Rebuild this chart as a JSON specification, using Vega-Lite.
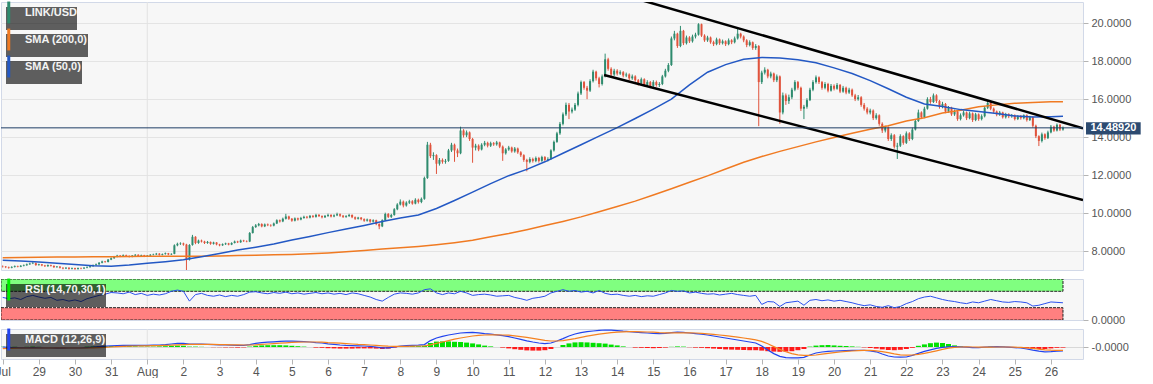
{
"$schema": "https://vega.github.io/schema/vega-lite/v6.json",
"padding": {"left": -6, "top": 1, "right": 0, "bottom": 0},
"background": "#ffffff",
"bounds": "flush",
"spacing": 9,
"resolve": {"scale": {"stroke": "independent"}, "legend": {"stroke": "independent"}},
"config": {
  "font": "Liberation Sans",
  "view": {"stroke": "#d2d9e8", "fill": "#f7f7f7", "strokeWidth": 1},
  "axis": {"labelFont": "Liberation Sans", "labelFontSize": 11, "labelColor": "#555555", "tickColor": "#b4b4b4", "domain": false},
  "legend": {"padding": 0, "fillColor": "rgba(0,0,0,0.62)", "labelColor": "#f4f4f4", "labelFont": "Liberation Sans", "labelFontSize": 11, "labelFontWeight": "bold", "labelOffset": 8, "symbolType": "M-1,-4V4", "symbolSize": 30, "symbolStrokeWidth": 3, "symbolOpacity": 1}
},
"datasets": {
"candles": [
{"t":0,"o":7.2,"hi":7.24,"lo":7.13,"c":7.18},{"t":2,"o":7.18,"hi":7.21,"lo":7.1,"c":7.15},{"t":4,"o":7.15,"hi":7.18,"lo":7.07,"c":7.12},{"t":6,"o":7.12,"hi":7.2,"lo":7.09,"c":7.16},{"t":8,"o":7.16,"hi":7.24,"lo":7.13,"c":7.2},{"t":10,"o":7.2,"hi":7.23,"lo":7.14,"c":7.17},{"t":12,"o":7.17,"hi":7.26,"lo":7.15,"c":7.22},{"t":14,"o":7.22,"hi":7.29,"lo":7.19,"c":7.25},{"t":16,"o":7.25,"hi":7.34,"lo":7.22,"c":7.3},{"t":18,"o":7.3,"hi":7.38,"lo":7.27,"c":7.34},
{"t":20,"o":7.34,"hi":7.42,"lo":7.31,"c":7.36},{"t":22,"o":7.36,"hi":7.39,"lo":7.22,"c":7.26},{"t":24,"o":7.26,"hi":7.33,"lo":7.23,"c":7.3},{"t":26,"o":7.3,"hi":7.32,"lo":7.2,"c":7.24},{"t":28,"o":7.24,"hi":7.27,"lo":7.16,"c":7.2},{"t":30,"o":7.2,"hi":7.29,"lo":7.17,"c":7.26},{"t":32,"o":7.26,"hi":7.28,"lo":7.18,"c":7.22},{"t":34,"o":7.22,"hi":7.24,"lo":7.11,"c":7.15},{"t":36,"o":7.15,"hi":7.21,"lo":7.12,"c":7.18},{"t":38,"o":7.18,"hi":7.2,"lo":7.08,"c":7.12},
{"t":40,"o":7.12,"hi":7.14,"lo":7.04,"c":7.08},{"t":42,"o":7.08,"hi":7.15,"lo":7.05,"c":7.12},{"t":44,"o":7.12,"hi":7.14,"lo":7.02,"c":7.06},{"t":46,"o":7.06,"hi":7.13,"lo":7.03,"c":7.1},{"t":48,"o":7.1,"hi":7.12,"lo":7.01,"c":7.05},{"t":50,"o":7.05,"hi":7.13,"lo":7.02,"c":7.1},{"t":52,"o":7.1,"hi":7.13,"lo":7.04,"c":7.08},{"t":54,"o":7.08,"hi":7.15,"lo":7.05,"c":7.12},{"t":56,"o":7.12,"hi":7.19,"lo":7.09,"c":7.15},{"t":58,"o":7.15,"hi":7.23,"lo":7.12,"c":7.2},
{"t":60,"o":7.2,"hi":7.29,"lo":7.17,"c":7.26},{"t":62,"o":7.26,"hi":7.34,"lo":7.22,"c":7.3},{"t":64,"o":7.3,"hi":7.42,"lo":7.27,"c":7.38},{"t":66,"o":7.38,"hi":7.49,"lo":7.35,"c":7.45},{"t":68,"o":7.45,"hi":7.48,"lo":7.38,"c":7.42},{"t":70,"o":7.42,"hi":7.58,"lo":7.4,"c":7.55},{"t":72,"o":7.55,"hi":7.66,"lo":7.52,"c":7.62},{"t":74,"o":7.62,"hi":7.74,"lo":7.59,"c":7.7},{"t":76,"o":7.7,"hi":7.8,"lo":7.67,"c":7.76},{"t":78,"o":7.76,"hi":7.79,"lo":7.68,"c":7.72},
{"t":80,"o":7.72,"hi":7.82,"lo":7.69,"c":7.78},{"t":82,"o":7.78,"hi":7.81,"lo":7.7,"c":7.74},{"t":84,"o":7.74,"hi":7.77,"lo":7.66,"c":7.7},{"t":86,"o":7.7,"hi":7.79,"lo":7.67,"c":7.76},{"t":88,"o":7.76,"hi":7.84,"lo":7.73,"c":7.8},{"t":90,"o":7.8,"hi":7.83,"lo":7.7,"c":7.74},{"t":92,"o":7.74,"hi":7.81,"lo":7.71,"c":7.78},{"t":94,"o":7.78,"hi":7.8,"lo":7.68,"c":7.72},{"t":96,"o":7.72,"hi":7.79,"lo":7.69,"c":7.76},{"t":98,"o":7.76,"hi":7.84,"lo":7.73,"c":7.8},
{"t":100,"o":7.8,"hi":7.86,"lo":7.77,"c":7.82},{"t":102,"o":7.82,"hi":7.9,"lo":7.79,"c":7.86},{"t":104,"o":7.86,"hi":7.89,"lo":7.76,"c":7.8},{"t":106,"o":7.8,"hi":7.87,"lo":7.77,"c":7.84},{"t":108,"o":7.84,"hi":7.92,"lo":7.81,"c":7.88},{"t":110,"o":7.88,"hi":7.9,"lo":7.78,"c":7.82},{"t":112,"o":7.82,"hi":7.88,"lo":7.79,"c":7.85},{"t":114,"o":7.85,"hi":8.35,"lo":7.83,"c":8.3},{"t":116,"o":8.3,"hi":8.44,"lo":8.25,"c":8.38},{"t":118,"o":8.38,"hi":8.46,"lo":8.32,"c":8.4},
{"t":120,"o":8.4,"hi":8.44,"lo":8.28,"c":8.34},{"t":122,"o":8.34,"hi":8.38,"lo":6.98,"c":7.55},{"t":124,"o":7.55,"hi":8.36,"lo":7.5,"c":8.32},{"t":126,"o":8.32,"hi":8.85,"lo":8.28,"c":8.75},{"t":128,"o":8.75,"hi":8.78,"lo":8.36,"c":8.42},{"t":130,"o":8.42,"hi":8.6,"lo":8.38,"c":8.55},{"t":132,"o":8.55,"hi":8.6,"lo":8.45,"c":8.5},{"t":134,"o":8.5,"hi":8.54,"lo":8.37,"c":8.42},{"t":136,"o":8.42,"hi":8.53,"lo":8.38,"c":8.48},{"t":138,"o":8.48,"hi":8.5,"lo":8.33,"c":8.38},
{"t":140,"o":8.38,"hi":8.49,"lo":8.34,"c":8.45},{"t":142,"o":8.45,"hi":8.47,"lo":8.3,"c":8.35},{"t":144,"o":8.35,"hi":8.38,"lo":8.25,"c":8.3},{"t":146,"o":8.3,"hi":8.4,"lo":8.27,"c":8.36},{"t":148,"o":8.36,"hi":8.44,"lo":8.32,"c":8.4},{"t":150,"o":8.4,"hi":8.43,"lo":8.3,"c":8.34},{"t":152,"o":8.34,"hi":8.46,"lo":8.31,"c":8.42},{"t":154,"o":8.42,"hi":8.55,"lo":8.4,"c":8.5},{"t":156,"o":8.5,"hi":8.54,"lo":8.42,"c":8.46},{"t":158,"o":8.46,"hi":8.6,"lo":8.43,"c":8.55},
{"t":160,"o":8.55,"hi":8.59,"lo":8.48,"c":8.52},{"t":162,"o":8.52,"hi":8.56,"lo":8.46,"c":8.5},{"t":164,"o":8.5,"hi":9.0,"lo":8.47,"c":8.95},{"t":166,"o":8.95,"hi":9.32,"lo":8.92,"c":9.26},{"t":168,"o":9.26,"hi":9.42,"lo":9.22,"c":9.35},{"t":170,"o":9.35,"hi":9.48,"lo":9.3,"c":9.42},{"t":172,"o":9.42,"hi":9.46,"lo":9.25,"c":9.3},{"t":174,"o":9.3,"hi":9.45,"lo":9.26,"c":9.4},{"t":176,"o":9.4,"hi":9.45,"lo":9.31,"c":9.36},{"t":178,"o":9.36,"hi":9.41,"lo":9.28,"c":9.34},
{"t":180,"o":9.34,"hi":9.5,"lo":9.3,"c":9.45},{"t":182,"o":9.45,"hi":9.67,"lo":9.42,"c":9.62},{"t":184,"o":9.62,"hi":9.66,"lo":9.5,"c":9.56},{"t":186,"o":9.56,"hi":9.76,"lo":9.52,"c":9.7},{"t":188,"o":9.7,"hi":9.96,"lo":9.66,"c":9.82},{"t":190,"o":9.82,"hi":9.86,"lo":9.64,"c":9.7},{"t":192,"o":9.7,"hi":9.74,"lo":9.54,"c":9.6},{"t":194,"o":9.6,"hi":9.77,"lo":9.56,"c":9.72},{"t":196,"o":9.72,"hi":9.76,"lo":9.6,"c":9.66},{"t":198,"o":9.66,"hi":9.8,"lo":9.62,"c":9.74},
{"t":200,"o":9.74,"hi":9.86,"lo":9.7,"c":9.8},{"t":202,"o":9.8,"hi":9.85,"lo":9.71,"c":9.76},{"t":204,"o":9.76,"hi":9.9,"lo":9.72,"c":9.85},{"t":206,"o":9.85,"hi":9.9,"lo":9.75,"c":9.8},{"t":208,"o":9.8,"hi":9.96,"lo":9.76,"c":9.9},{"t":210,"o":9.9,"hi":9.95,"lo":9.79,"c":9.84},{"t":212,"o":9.84,"hi":9.88,"lo":9.72,"c":9.78},{"t":214,"o":9.78,"hi":9.9,"lo":9.74,"c":9.85},{"t":216,"o":9.85,"hi":9.97,"lo":9.8,"c":9.9},{"t":218,"o":9.9,"hi":9.94,"lo":9.77,"c":9.82},
{"t":220,"o":9.82,"hi":9.93,"lo":9.78,"c":9.88},{"t":222,"o":9.88,"hi":10.02,"lo":9.84,"c":9.94},{"t":224,"o":9.94,"hi":9.98,"lo":9.8,"c":9.86},{"t":226,"o":9.86,"hi":9.9,"lo":9.74,"c":9.8},{"t":228,"o":9.8,"hi":9.89,"lo":9.75,"c":9.84},{"t":230,"o":9.84,"hi":9.96,"lo":9.8,"c":9.9},{"t":232,"o":9.9,"hi":9.93,"lo":9.73,"c":9.78},{"t":234,"o":9.78,"hi":9.82,"lo":9.64,"c":9.7},{"t":236,"o":9.7,"hi":9.8,"lo":9.66,"c":9.76},{"t":238,"o":9.76,"hi":9.79,"lo":9.62,"c":9.68},
{"t":240,"o":9.68,"hi":9.72,"lo":9.54,"c":9.6},{"t":242,"o":9.6,"hi":9.71,"lo":9.55,"c":9.66},{"t":244,"o":9.66,"hi":9.69,"lo":9.49,"c":9.55},{"t":246,"o":9.55,"hi":9.67,"lo":9.5,"c":9.62},{"t":248,"o":9.62,"hi":9.65,"lo":9.36,"c":9.42},{"t":250,"o":9.42,"hi":9.46,"lo":9.15,"c":9.3},{"t":252,"o":9.3,"hi":9.67,"lo":9.26,"c":9.62},{"t":254,"o":9.62,"hi":10.02,"lo":9.58,"c":9.95},{"t":256,"o":9.95,"hi":10.0,"lo":9.74,"c":9.8},{"t":258,"o":9.8,"hi":9.96,"lo":9.74,"c":9.9},
{"t":260,"o":9.9,"hi":10.26,"lo":9.86,"c":10.2},{"t":262,"o":10.2,"hi":10.52,"lo":10.15,"c":10.45},{"t":264,"o":10.45,"hi":10.72,"lo":10.4,"c":10.6},{"t":266,"o":10.6,"hi":10.66,"lo":10.3,"c":10.4},{"t":268,"o":10.4,"hi":10.62,"lo":10.34,"c":10.55},{"t":270,"o":10.55,"hi":10.7,"lo":10.48,"c":10.62},{"t":272,"o":10.62,"hi":10.68,"lo":10.44,"c":10.5},{"t":274,"o":10.5,"hi":10.78,"lo":10.46,"c":10.7},{"t":276,"o":10.7,"hi":10.76,"lo":10.5,"c":10.58},{"t":278,"o":10.58,"hi":10.82,"lo":10.52,"c":10.75},
{"t":280,"o":10.75,"hi":11.92,"lo":10.7,"c":11.85},{"t":282,"o":11.85,"hi":13.75,"lo":11.8,"c":13.6},{"t":284,"o":13.6,"hi":13.7,"lo":12.9,"c":13.0},{"t":286,"o":13.0,"hi":13.2,"lo":12.8,"c":13.05},{"t":288,"o":13.05,"hi":13.1,"lo":12.06,"c":12.6},{"t":290,"o":12.6,"hi":12.9,"lo":12.5,"c":12.8},{"t":292,"o":12.8,"hi":12.88,"lo":12.6,"c":12.7},{"t":294,"o":12.7,"hi":12.85,"lo":12.6,"c":12.75},{"t":296,"o":12.75,"hi":13.38,"lo":12.7,"c":13.3},{"t":298,"o":13.3,"hi":13.7,"lo":13.22,"c":13.6},
{"t":300,"o":13.6,"hi":13.66,"lo":12.7,"c":13.3},{"t":302,"o":13.3,"hi":13.4,"lo":12.95,"c":13.15},{"t":304,"o":13.15,"hi":14.55,"lo":13.1,"c":14.35},{"t":306,"o":14.35,"hi":14.42,"lo":13.98,"c":14.1},{"t":308,"o":14.1,"hi":14.35,"lo":14.0,"c":14.25},{"t":310,"o":14.25,"hi":14.3,"lo":13.8,"c":13.9},{"t":312,"o":13.9,"hi":13.96,"lo":12.65,"c":13.45},{"t":314,"o":13.45,"hi":13.65,"lo":13.3,"c":13.55},{"t":316,"o":13.55,"hi":13.62,"lo":13.26,"c":13.35},{"t":318,"o":13.35,"hi":13.68,"lo":13.3,"c":13.6},
{"t":320,"o":13.6,"hi":13.8,"lo":13.52,"c":13.7},{"t":322,"o":13.7,"hi":13.76,"lo":13.46,"c":13.55},{"t":324,"o":13.55,"hi":13.76,"lo":13.48,"c":13.68},{"t":326,"o":13.68,"hi":13.74,"lo":13.54,"c":13.62},{"t":328,"o":13.62,"hi":13.8,"lo":13.55,"c":13.72},{"t":330,"o":13.72,"hi":13.76,"lo":13.42,"c":13.5},{"t":332,"o":13.5,"hi":13.56,"lo":12.75,"c":13.15},{"t":334,"o":13.15,"hi":13.42,"lo":13.08,"c":13.35},{"t":336,"o":13.35,"hi":13.54,"lo":13.28,"c":13.45},{"t":338,"o":13.45,"hi":13.5,"lo":13.18,"c":13.25},
{"t":340,"o":13.25,"hi":13.48,"lo":13.18,"c":13.4},{"t":342,"o":13.4,"hi":13.45,"lo":13.12,"c":13.2},{"t":344,"o":13.2,"hi":13.26,"lo":12.96,"c":13.05},{"t":346,"o":13.05,"hi":13.1,"lo":12.7,"c":12.8},{"t":348,"o":12.8,"hi":12.86,"lo":12.2,"c":12.7},{"t":350,"o":12.7,"hi":12.94,"lo":12.62,"c":12.85},{"t":352,"o":12.85,"hi":12.92,"lo":12.66,"c":12.75},{"t":354,"o":12.75,"hi":12.98,"lo":12.68,"c":12.9},{"t":356,"o":12.9,"hi":12.96,"lo":12.66,"c":12.75},{"t":358,"o":12.75,"hi":13.02,"lo":12.7,"c":12.95},
{"t":360,"o":12.95,"hi":13.0,"lo":12.72,"c":12.8},{"t":362,"o":12.8,"hi":12.94,"lo":12.72,"c":12.85},{"t":364,"o":12.85,"hi":13.36,"lo":12.8,"c":13.3},{"t":366,"o":13.3,"hi":13.82,"lo":13.24,"c":13.75},{"t":368,"o":13.75,"hi":14.28,"lo":13.7,"c":14.2},{"t":370,"o":14.2,"hi":14.8,"lo":14.12,"c":14.7},{"t":372,"o":14.7,"hi":15.3,"lo":14.62,"c":15.2},{"t":374,"o":15.2,"hi":15.82,"lo":15.12,"c":15.7},{"t":376,"o":15.7,"hi":15.8,"lo":14.95,"c":15.35},{"t":378,"o":15.35,"hi":15.56,"lo":15.25,"c":15.45},
{"t":380,"o":15.45,"hi":15.8,"lo":15.38,"c":15.7},{"t":382,"o":15.7,"hi":16.4,"lo":15.62,"c":16.3},{"t":384,"o":16.3,"hi":16.98,"lo":16.22,"c":16.9},{"t":386,"o":16.9,"hi":16.96,"lo":16.5,"c":16.6},{"t":388,"o":16.6,"hi":16.7,"lo":16.0,"c":16.45},{"t":390,"o":16.45,"hi":17.05,"lo":16.38,"c":16.95},{"t":392,"o":16.95,"hi":17.55,"lo":16.88,"c":17.45},{"t":394,"o":17.45,"hi":17.5,"lo":16.98,"c":17.1},{"t":396,"o":17.1,"hi":17.18,"lo":16.62,"c":16.8},{"t":398,"o":16.8,"hi":17.3,"lo":16.72,"c":17.2},
{"t":400,"o":17.2,"hi":18.4,"lo":17.15,"c":18.1},{"t":402,"o":18.1,"hi":18.18,"lo":17.5,"c":17.6},{"t":404,"o":17.6,"hi":17.68,"lo":17.2,"c":17.3},{"t":406,"o":17.3,"hi":17.6,"lo":17.22,"c":17.5},{"t":408,"o":17.5,"hi":17.58,"lo":17.25,"c":17.35},{"t":410,"o":17.35,"hi":17.52,"lo":17.28,"c":17.42},{"t":412,"o":17.42,"hi":17.48,"lo":17.15,"c":17.25},{"t":414,"o":17.25,"hi":17.4,"lo":17.16,"c":17.3},{"t":416,"o":17.3,"hi":17.36,"lo":17.0,"c":17.1},{"t":418,"o":17.1,"hi":17.3,"lo":17.02,"c":17.2},
{"t":420,"o":17.2,"hi":17.26,"lo":16.92,"c":17.0},{"t":422,"o":17.0,"hi":17.06,"lo":16.72,"c":16.85},{"t":424,"o":16.85,"hi":17.14,"lo":16.8,"c":17.05},{"t":426,"o":17.05,"hi":17.1,"lo":16.66,"c":16.75},{"t":428,"o":16.75,"hi":17.0,"lo":16.68,"c":16.9},{"t":430,"o":16.9,"hi":16.96,"lo":16.58,"c":16.7},{"t":432,"o":16.7,"hi":17.0,"lo":16.62,"c":16.9},{"t":434,"o":16.9,"hi":16.98,"lo":16.66,"c":16.75},{"t":436,"o":16.75,"hi":16.9,"lo":16.64,"c":16.8},{"t":438,"o":16.8,"hi":17.28,"lo":16.74,"c":17.2},
{"t":440,"o":17.2,"hi":17.6,"lo":17.14,"c":17.5},{"t":442,"o":17.5,"hi":17.9,"lo":17.42,"c":17.8},{"t":444,"o":17.8,"hi":19.3,"lo":17.75,"c":19.2},{"t":446,"o":19.2,"hi":19.6,"lo":19.1,"c":19.45},{"t":448,"o":19.45,"hi":19.5,"lo":18.7,"c":18.8},{"t":450,"o":18.8,"hi":19.86,"lo":18.74,"c":19.6},{"t":452,"o":19.6,"hi":19.65,"lo":18.85,"c":18.95},{"t":454,"o":18.95,"hi":19.35,"lo":18.88,"c":19.25},{"t":456,"o":19.25,"hi":19.32,"lo":18.96,"c":19.05},{"t":458,"o":19.05,"hi":19.4,"lo":18.98,"c":19.3},
{"t":460,"o":19.3,"hi":19.5,"lo":19.2,"c":19.4},{"t":462,"o":19.4,"hi":20.0,"lo":19.35,"c":19.95},{"t":464,"o":19.95,"hi":19.98,"lo":19.28,"c":19.35},{"t":466,"o":19.35,"hi":19.42,"lo":19.02,"c":19.1},{"t":468,"o":19.1,"hi":19.34,"lo":19.02,"c":19.25},{"t":470,"o":19.25,"hi":19.3,"lo":18.92,"c":19.0},{"t":472,"o":19.0,"hi":19.08,"lo":18.8,"c":18.9},{"t":474,"o":18.9,"hi":19.24,"lo":18.84,"c":19.15},{"t":476,"o":19.15,"hi":19.2,"lo":18.86,"c":18.95},{"t":478,"o":18.95,"hi":19.14,"lo":18.88,"c":19.05},
{"t":480,"o":19.05,"hi":19.1,"lo":18.8,"c":18.9},{"t":482,"o":18.9,"hi":19.2,"lo":18.84,"c":19.1},{"t":484,"o":19.1,"hi":19.16,"lo":18.9,"c":19.0},{"t":486,"o":19.0,"hi":19.3,"lo":18.94,"c":19.2},{"t":488,"o":19.2,"hi":19.7,"lo":19.14,"c":19.45},{"t":490,"o":19.45,"hi":19.5,"lo":19.2,"c":19.3},{"t":492,"o":19.3,"hi":19.36,"lo":19.0,"c":19.1},{"t":494,"o":19.1,"hi":19.16,"lo":18.74,"c":18.85},{"t":496,"o":18.85,"hi":19.1,"lo":18.78,"c":19.0},{"t":498,"o":19.0,"hi":19.04,"lo":18.6,"c":18.7},
{"t":500,"o":18.7,"hi":18.9,"lo":18.6,"c":18.8},{"t":502,"o":18.8,"hi":18.85,"lo":14.58,"c":16.9},{"t":504,"o":16.9,"hi":17.5,"lo":16.8,"c":17.4},{"t":506,"o":17.4,"hi":17.68,"lo":17.3,"c":17.55},{"t":508,"o":17.55,"hi":17.6,"lo":17.1,"c":17.2},{"t":510,"o":17.2,"hi":17.45,"lo":17.1,"c":17.35},{"t":512,"o":17.35,"hi":17.4,"lo":16.9,"c":17.0},{"t":514,"o":17.0,"hi":17.3,"lo":16.9,"c":17.2},{"t":516,"o":17.2,"hi":17.25,"lo":14.7,"c":15.3},{"t":518,"o":15.3,"hi":16.35,"lo":15.2,"c":16.2},
{"t":520,"o":16.2,"hi":16.3,"lo":15.7,"c":15.9},{"t":522,"o":15.9,"hi":16.24,"lo":15.75,"c":16.1},{"t":524,"o":16.1,"hi":16.6,"lo":16.0,"c":16.5},{"t":526,"o":16.5,"hi":17.0,"lo":16.42,"c":16.9},{"t":528,"o":16.9,"hi":16.96,"lo":16.5,"c":16.6},{"t":530,"o":16.6,"hi":16.66,"lo":15.38,"c":15.5},{"t":532,"o":15.5,"hi":15.7,"lo":14.95,"c":15.6},{"t":534,"o":15.6,"hi":16.05,"lo":15.5,"c":15.95},{"t":536,"o":15.95,"hi":16.6,"lo":15.9,"c":16.5},{"t":538,"o":16.5,"hi":17.0,"lo":16.42,"c":16.9},
{"t":540,"o":16.9,"hi":17.25,"lo":16.82,"c":17.15},{"t":542,"o":17.15,"hi":17.2,"lo":16.8,"c":16.9},{"t":544,"o":16.9,"hi":16.96,"lo":16.5,"c":16.6},{"t":546,"o":16.6,"hi":16.9,"lo":16.52,"c":16.8},{"t":548,"o":16.8,"hi":16.86,"lo":16.36,"c":16.45},{"t":550,"o":16.45,"hi":16.8,"lo":16.4,"c":16.7},{"t":552,"o":16.7,"hi":16.78,"lo":16.46,"c":16.55},{"t":554,"o":16.55,"hi":16.85,"lo":16.5,"c":16.75},{"t":556,"o":16.75,"hi":16.8,"lo":16.32,"c":16.4},{"t":558,"o":16.4,"hi":16.7,"lo":16.34,"c":16.6},
{"t":560,"o":16.6,"hi":16.66,"lo":16.26,"c":16.35},{"t":562,"o":16.35,"hi":16.6,"lo":16.28,"c":16.5},{"t":564,"o":16.5,"hi":16.56,"lo":16.12,"c":16.2},{"t":566,"o":16.2,"hi":16.28,"lo":15.9,"c":16.0},{"t":568,"o":16.0,"hi":16.22,"lo":15.92,"c":16.1},{"t":570,"o":16.1,"hi":16.16,"lo":15.6,"c":15.7},{"t":572,"o":15.7,"hi":15.8,"lo":15.4,"c":15.5},{"t":574,"o":15.5,"hi":15.58,"lo":15.2,"c":15.3},{"t":576,"o":15.3,"hi":15.5,"lo":15.2,"c":15.4},{"t":578,"o":15.4,"hi":15.46,"lo":14.9,"c":15.0},
{"t":580,"o":15.0,"hi":15.26,"lo":14.92,"c":15.15},{"t":582,"o":15.15,"hi":15.2,"lo":14.6,"c":14.7},{"t":584,"o":14.7,"hi":14.78,"lo":14.22,"c":14.35},{"t":586,"o":14.35,"hi":14.6,"lo":14.25,"c":14.5},{"t":588,"o":14.5,"hi":14.56,"lo":13.8,"c":13.9},{"t":590,"o":13.9,"hi":14.2,"lo":13.8,"c":14.1},{"t":592,"o":14.1,"hi":14.16,"lo":13.4,"c":13.5},{"t":594,"o":13.5,"hi":13.7,"lo":12.85,"c":13.55},{"t":596,"o":13.55,"hi":14.15,"lo":13.48,"c":14.05},{"t":598,"o":14.05,"hi":14.1,"lo":13.6,"c":13.7},
{"t":600,"o":13.7,"hi":14.3,"lo":13.64,"c":14.2},{"t":602,"o":14.2,"hi":14.26,"lo":13.8,"c":13.9},{"t":604,"o":13.9,"hi":14.5,"lo":13.84,"c":14.4},{"t":606,"o":14.4,"hi":14.95,"lo":14.35,"c":14.85},{"t":608,"o":14.85,"hi":15.45,"lo":14.8,"c":15.3},{"t":610,"o":15.3,"hi":15.36,"lo":14.95,"c":15.05},{"t":612,"o":15.05,"hi":15.6,"lo":15.0,"c":15.5},{"t":614,"o":15.5,"hi":16.1,"lo":15.45,"c":16.0},{"t":616,"o":16.0,"hi":16.12,"lo":15.76,"c":15.85},{"t":618,"o":15.85,"hi":16.3,"lo":15.8,"c":16.2},
{"t":620,"o":16.2,"hi":16.26,"lo":15.8,"c":15.9},{"t":622,"o":15.9,"hi":15.96,"lo":15.5,"c":15.6},{"t":624,"o":15.6,"hi":15.86,"lo":15.52,"c":15.75},{"t":626,"o":15.75,"hi":15.8,"lo":15.26,"c":15.35},{"t":628,"o":15.35,"hi":15.64,"lo":15.28,"c":15.55},{"t":630,"o":15.55,"hi":15.6,"lo":15.12,"c":15.2},{"t":632,"o":15.2,"hi":15.45,"lo":15.12,"c":15.35},{"t":634,"o":15.35,"hi":15.4,"lo":14.86,"c":14.95},{"t":636,"o":14.95,"hi":15.25,"lo":14.88,"c":15.15},{"t":638,"o":15.15,"hi":15.4,"lo":15.08,"c":15.3},
{"t":640,"o":15.3,"hi":15.35,"lo":14.9,"c":15.0},{"t":642,"o":15.0,"hi":15.34,"lo":14.94,"c":15.25},{"t":644,"o":15.25,"hi":15.3,"lo":14.8,"c":14.9},{"t":646,"o":14.9,"hi":15.28,"lo":14.84,"c":15.2},{"t":648,"o":15.2,"hi":15.25,"lo":14.86,"c":14.95},{"t":650,"o":14.95,"hi":15.2,"lo":14.88,"c":15.1},{"t":652,"o":15.1,"hi":15.64,"lo":15.04,"c":15.55},{"t":654,"o":15.55,"hi":15.9,"lo":15.48,"c":15.8},{"t":656,"o":15.8,"hi":15.86,"lo":15.42,"c":15.5},{"t":658,"o":15.5,"hi":15.56,"lo":15.26,"c":15.35},
{"t":660,"o":15.35,"hi":15.4,"lo":15.1,"c":15.2},{"t":662,"o":15.2,"hi":15.38,"lo":15.12,"c":15.3},{"t":664,"o":15.3,"hi":15.34,"lo":14.98,"c":15.05},{"t":666,"o":15.05,"hi":15.28,"lo":14.98,"c":15.2},{"t":668,"o":15.2,"hi":15.26,"lo":15.0,"c":15.1},{"t":670,"o":15.1,"hi":15.22,"lo":15.02,"c":15.15},{"t":672,"o":15.15,"hi":15.2,"lo":14.88,"c":14.95},{"t":674,"o":14.95,"hi":15.16,"lo":14.9,"c":15.1},{"t":676,"o":15.1,"hi":15.16,"lo":14.92,"c":15.0},{"t":678,"o":15.0,"hi":15.2,"lo":14.94,"c":15.15},
{"t":680,"o":15.15,"hi":15.2,"lo":14.82,"c":14.9},{"t":682,"o":14.9,"hi":15.12,"lo":14.85,"c":15.05},{"t":684,"o":15.05,"hi":15.1,"lo":14.5,"c":14.6},{"t":686,"o":14.6,"hi":14.66,"lo":13.95,"c":14.05},{"t":688,"o":14.05,"hi":14.1,"lo":13.53,"c":13.8},{"t":690,"o":13.8,"hi":14.24,"lo":13.72,"c":14.15},{"t":692,"o":14.15,"hi":14.2,"lo":13.86,"c":13.95},{"t":694,"o":13.95,"hi":14.34,"lo":13.9,"c":14.25},{"t":696,"o":14.25,"hi":14.64,"lo":14.2,"c":14.55},{"t":698,"o":14.55,"hi":14.6,"lo":14.28,"c":14.35},
{"t":700,"o":14.35,"hi":14.72,"lo":14.3,"c":14.65},{"t":702,"o":14.65,"hi":14.7,"lo":14.32,"c":14.4},{"t":704,"o":14.4,"hi":14.56,"lo":14.34,"c":14.4892}
],
"sma": [
{"t":0,"sma200":7.65,"sma50":7.52},{"t":12,"sma200":7.66,"sma50":7.47},{"t":24,"sma200":7.67,"sma50":7.42},{"t":36,"sma200":7.68,"sma50":7.36},{"t":48,"sma200":7.69,"sma50":7.29},{"t":60,"sma200":7.7,"sma50":7.22},{"t":72,"sma200":7.7,"sma50":7.2},{"t":84,"sma200":7.71,"sma50":7.26},{"t":96,"sma200":7.72,"sma50":7.35},{"t":108,"sma200":7.72,"sma50":7.44},
{"t":120,"sma200":7.72,"sma50":7.54},{"t":132,"sma200":7.73,"sma50":7.7},{"t":144,"sma200":7.74,"sma50":7.87},{"t":156,"sma200":7.76,"sma50":8.05},{"t":168,"sma200":7.78,"sma50":8.2},{"t":180,"sma200":7.8,"sma50":8.37},{"t":192,"sma200":7.82,"sma50":8.58},{"t":204,"sma200":7.85,"sma50":8.77},{"t":216,"sma200":7.9,"sma50":8.97},{"t":228,"sma200":7.96,"sma50":9.16},
{"t":240,"sma200":8.03,"sma50":9.35},{"t":252,"sma200":8.1,"sma50":9.55},{"t":264,"sma200":8.17,"sma50":9.74},{"t":276,"sma200":8.24,"sma50":9.9},{"t":288,"sma200":8.33,"sma50":10.24},{"t":300,"sma200":8.44,"sma50":10.66},{"t":312,"sma200":8.57,"sma50":11.1},{"t":324,"sma200":8.75,"sma50":11.55},{"t":336,"sma200":8.92,"sma50":11.97},{"t":348,"sma200":9.12,"sma50":12.3},
{"t":360,"sma200":9.34,"sma50":12.7},{"t":372,"sma200":9.56,"sma50":13.15},{"t":384,"sma200":9.8,"sma50":13.6},{"t":396,"sma200":10.07,"sma50":14.05},{"t":408,"sma200":10.35,"sma50":14.5},{"t":420,"sma200":10.63,"sma50":14.98},{"t":432,"sma200":10.95,"sma50":15.48},{"t":444,"sma200":11.28,"sma50":16.0},{"t":456,"sma200":11.62,"sma50":16.75},{"t":468,"sma200":11.96,"sma50":17.42},
{"t":480,"sma200":12.32,"sma50":17.82},{"t":492,"sma200":12.68,"sma50":18.1},{"t":504,"sma200":12.98,"sma50":18.2},{"t":516,"sma200":13.25,"sma50":18.17},{"t":528,"sma200":13.5,"sma50":18.08},{"t":540,"sma200":13.75,"sma50":17.92},{"t":552,"sma200":13.98,"sma50":17.65},{"t":564,"sma200":14.2,"sma50":17.35},{"t":576,"sma200":14.42,"sma50":16.98},{"t":588,"sma200":14.6,"sma50":16.55},
{"t":600,"sma200":14.85,"sma50":16.1},{"t":612,"sma200":15.02,"sma50":15.75},{"t":624,"sma200":15.27,"sma50":15.62},{"t":636,"sma200":15.42,"sma50":15.45},{"t":648,"sma200":15.6,"sma50":15.35},{"t":660,"sma200":15.7,"sma50":15.25},{"t":672,"sma200":15.78,"sma50":15.12},{"t":684,"sma200":15.83,"sma50":15.06},{"t":696,"sma200":15.86,"sma50":15.08},{"t":704,"sma200":15.87,"sma50":15.1}
],
"channel": [
{"line":"upper","t":420,"p":21.31},{"line":"upper","t":717.3,"p":14.47},
{"line":"lower","t":399.3,"p":17.275},{"line":"lower","t":717.3,"p":10.685}
],
"ind": [
{"t":0,"rsi":55,"m":0,"s":-0.08,"h":0.01},{"t":4,"rsi":52,"m":-0.02,"s":-0.07,"h":0.01},{"t":8,"rsi":54,"m":-0.03,"s":-0.06,"h":0.01},{"t":12,"rsi":50,"m":-0.04,"s":-0.05,"h":0},{"t":16,"rsi":57,"m":-0.04,"s":-0.05,"h":0.01},{"t":20,"rsi":60,"m":-0.03,"s":-0.05,"h":0.02},{"t":24,"rsi":56,"m":-0.04,"s":-0.05,"h":0.01},{"t":28,"rsi":53,"m":-0.05,"s":-0.05,"h":0},{"t":32,"rsi":55,"m":-0.05,"s":-0.05,"h":0},{"t":36,"rsi":48,"m":-0.06,"s":-0.05,"h":-0.01},
{"t":40,"rsi":50,"m":-0.06,"s":-0.05,"h":-0.01},{"t":44,"rsi":46,"m":-0.05,"s":-0.05,"h":0},{"t":48,"rsi":49,"m":-0.05,"s":-0.05,"h":0},{"t":52,"rsi":45,"m":-0.05,"s":-0.05,"h":0},{"t":56,"rsi":52,"m":-0.03,"s":-0.05,"h":0.02},{"t":60,"rsi":56,"m":-0.01,"s":-0.04,"h":0.03},{"t":64,"rsi":60,"m":0.02,"s":-0.03,"h":0.04},{"t":68,"rsi":63,"m":0.04,"s":-0.02,"h":0.05},{"t":72,"rsi":67,"m":0.06,"s":0,"h":0.05},{"t":76,"rsi":66,"m":0.07,"s":0.02,"h":0.05},
{"t":80,"rsi":64,"m":0.08,"s":0.03,"h":0.05},{"t":84,"rsi":68,"m":0.08,"s":0.04,"h":0.04},{"t":88,"rsi":62,"m":0.08,"s":0.05,"h":0.03},{"t":92,"rsi":65,"m":0.08,"s":0.06,"h":0.02},{"t":96,"rsi":60,"m":0.08,"s":0.06,"h":0.02},{"t":100,"rsi":63,"m":0.09,"s":0.07,"h":0.02},{"t":104,"rsi":61,"m":0.1,"s":0.07,"h":0.03},{"t":108,"rsi":64,"m":0.12,"s":0.08,"h":0.04},{"t":112,"rsi":70,"m":0.15,"s":0.09,"h":0.06},{"t":116,"rsi":73,"m":0.18,"s":0.11,"h":0.07},
{"t":120,"rsi":70,"m":0.18,"s":0.12,"h":0.06},{"t":124,"rsi":46,"m":0.15,"s":0.13,"h":0.02},{"t":128,"rsi":62,"m":0.15,"s":0.13,"h":0.02},{"t":132,"rsi":65,"m":0.14,"s":0.13,"h":0.01},{"t":136,"rsi":60,"m":0.13,"s":0.13,"h":0},{"t":140,"rsi":58,"m":0.12,"s":0.13,"h":-0.01},{"t":144,"rsi":61,"m":0.11,"s":0.12,"h":-0.01},{"t":148,"rsi":57,"m":0.1,"s":0.12,"h":-0.02},{"t":152,"rsi":60,"m":0.09,"s":0.11,"h":-0.02},{"t":156,"rsi":58,"m":0.08,"s":0.11,"h":-0.03},
{"t":160,"rsi":62,"m":0.08,"s":0.1,"h":-0.02},{"t":164,"rsi":68,"m":0.12,"s":0.1,"h":0.02},{"t":168,"rsi":69,"m":0.18,"s":0.11,"h":0.06},{"t":172,"rsi":66,"m":0.22,"s":0.13,"h":0.08},{"t":176,"rsi":64,"m":0.24,"s":0.15,"h":0.09},{"t":180,"rsi":67,"m":0.26,"s":0.17,"h":0.09},{"t":184,"rsi":65,"m":0.28,"s":0.19,"h":0.09},{"t":188,"rsi":68,"m":0.29,"s":0.21,"h":0.08},{"t":192,"rsi":64,"m":0.29,"s":0.23,"h":0.06},{"t":196,"rsi":66,"m":0.28,"s":0.24,"h":0.04},
{"t":200,"rsi":63,"m":0.27,"s":0.25,"h":0.02},{"t":204,"rsi":65,"m":0.25,"s":0.25,"h":0},{"t":208,"rsi":67,"m":0.22,"s":0.25,"h":-0.03},{"t":212,"rsi":64,"m":0.2,"s":0.24,"h":-0.04},{"t":216,"rsi":66,"m":0.16,"s":0.22,"h":-0.06},{"t":220,"rsi":63,"m":0.13,"s":0.21,"h":-0.07},{"t":224,"rsi":65,"m":0.1,"s":0.19,"h":-0.08},{"t":228,"rsi":62,"m":0.08,"s":0.17,"h":-0.08},{"t":232,"rsi":66,"m":0.07,"s":0.15,"h":-0.08},{"t":236,"rsi":64,"m":0.06,"s":0.13,"h":-0.07},
{"t":240,"rsi":60,"m":0.05,"s":0.12,"h":-0.07},{"t":244,"rsi":56,"m":0.03,"s":0.1,"h":-0.07},{"t":248,"rsi":50,"m":0,"s":0.08,"h":-0.08},{"t":252,"rsi":46,"m":-0.04,"s":0.06,"h":-0.1},{"t":256,"rsi":55,"m":-0.04,"s":0.04,"h":-0.08},{"t":260,"rsi":63,"m":0,"s":0.03,"h":-0.03},{"t":264,"rsi":66,"m":0.04,"s":0.03,"h":0.01},{"t":268,"rsi":65,"m":0.07,"s":0.03,"h":0.04},{"t":272,"rsi":63,"m":0.08,"s":0.04,"h":0.04},{"t":276,"rsi":66,"m":0.09,"s":0.05,"h":0.04},
{"t":280,"rsi":74,"m":0.12,"s":0.06,"h":0.06},{"t":284,"rsi":76,"m":0.32,"s":0.11,"h":0.2},{"t":288,"rsi":66,"m":0.45,"s":0.18,"h":0.27},{"t":292,"rsi":62,"m":0.53,"s":0.25,"h":0.28},{"t":296,"rsi":66,"m":0.6,"s":0.32,"h":0.28},{"t":300,"rsi":64,"m":0.65,"s":0.39,"h":0.26},{"t":304,"rsi":70,"m":0.7,"s":0.45,"h":0.25},{"t":308,"rsi":66,"m":0.72,"s":0.5,"h":0.22},{"t":312,"rsi":60,"m":0.73,"s":0.55,"h":0.18},{"t":316,"rsi":62,"m":0.71,"s":0.58,"h":0.13},
{"t":320,"rsi":63,"m":0.67,"s":0.6,"h":0.07},{"t":324,"rsi":61,"m":0.64,"s":0.61,"h":0.03},{"t":328,"rsi":58,"m":0.61,"s":0.61,"h":0},{"t":332,"rsi":59,"m":0.57,"s":0.6,"h":-0.03},{"t":336,"rsi":60,"m":0.52,"s":0.59,"h":-0.07},{"t":340,"rsi":55,"m":0.45,"s":0.56,"h":-0.11},{"t":344,"rsi":52,"m":0.38,"s":0.52,"h":-0.14},{"t":348,"rsi":48,"m":0.31,"s":0.48,"h":-0.17},{"t":352,"rsi":53,"m":0.25,"s":0.43,"h":-0.18},{"t":356,"rsi":55,"m":0.2,"s":0.38,"h":-0.18},
{"t":360,"rsi":58,"m":0.17,"s":0.33,"h":-0.16},{"t":364,"rsi":66,"m":0.2,"s":0.3,"h":-0.1},{"t":368,"rsi":70,"m":0.3,"s":0.3,"h":0},{"t":372,"rsi":74,"m":0.42,"s":0.32,"h":0.1},{"t":376,"rsi":70,"m":0.55,"s":0.37,"h":0.18},{"t":380,"rsi":72,"m":0.65,"s":0.42,"h":0.23},{"t":384,"rsi":68,"m":0.72,"s":0.48,"h":0.24},{"t":388,"rsi":70,"m":0.77,"s":0.54,"h":0.23},{"t":392,"rsi":66,"m":0.8,"s":0.59,"h":0.21},{"t":396,"rsi":72,"m":0.83,"s":0.64,"h":0.19},
{"t":400,"rsi":65,"m":0.85,"s":0.68,"h":0.17},{"t":404,"rsi":62,"m":0.84,"s":0.72,"h":0.12},{"t":408,"rsi":63,"m":0.82,"s":0.74,"h":0.08},{"t":412,"rsi":60,"m":0.79,"s":0.76,"h":0.03},{"t":416,"rsi":58,"m":0.77,"s":0.77,"h":0},{"t":420,"rsi":60,"m":0.74,"s":0.77,"h":-0.03},{"t":424,"rsi":57,"m":0.72,"s":0.76,"h":-0.04},{"t":428,"rsi":59,"m":0.7,"s":0.75,"h":-0.05},{"t":432,"rsi":58,"m":0.68,"s":0.74,"h":-0.06},{"t":436,"rsi":62,"m":0.67,"s":0.72,"h":-0.05},
{"t":440,"rsi":66,"m":0.68,"s":0.71,"h":-0.03},{"t":444,"rsi":72,"m":0.72,"s":0.71,"h":0.01},{"t":448,"rsi":70,"m":0.74,"s":0.71,"h":0.03},{"t":452,"rsi":71,"m":0.73,"s":0.71,"h":0.02},{"t":456,"rsi":66,"m":0.7,"s":0.71,"h":-0.01},{"t":460,"rsi":68,"m":0.67,"s":0.7,"h":-0.03},{"t":464,"rsi":65,"m":0.64,"s":0.68,"h":-0.04},{"t":468,"rsi":63,"m":0.6,"s":0.66,"h":-0.06},{"t":472,"rsi":64,"m":0.55,"s":0.63,"h":-0.08},{"t":476,"rsi":61,"m":0.5,"s":0.6,"h":-0.1},
{"t":480,"rsi":63,"m":0.45,"s":0.57,"h":-0.12},{"t":484,"rsi":65,"m":0.4,"s":0.53,"h":-0.13},{"t":488,"rsi":62,"m":0.35,"s":0.49,"h":-0.14},{"t":492,"rsi":60,"m":0.3,"s":0.45,"h":-0.15},{"t":496,"rsi":58,"m":0.25,"s":0.41,"h":-0.16},{"t":500,"rsi":60,"m":0.2,"s":0.36,"h":-0.16},{"t":504,"rsi":38,"m":0.05,"s":0.28,"h":-0.18},{"t":508,"rsi":45,"m":-0.15,"s":0.16,"h":-0.21},{"t":512,"rsi":44,"m":-0.33,"s":0.02,"h":-0.23},{"t":516,"rsi":33,"m":-0.47,"s":-0.12,"h":-0.24},
{"t":520,"rsi":42,"m":-0.53,"s":-0.24,"h":-0.23},{"t":524,"rsi":44,"m":-0.54,"s":-0.33,"h":-0.21},{"t":528,"rsi":46,"m":-0.54,"s":-0.39,"h":-0.16},{"t":532,"rsi":36,"m":-0.52,"s":-0.42,"h":-0.1},{"t":536,"rsi":48,"m":-0.4,"s":-0.42,"h":0.02},{"t":540,"rsi":50,"m":-0.3,"s":-0.4,"h":0.07},{"t":544,"rsi":47,"m":-0.25,"s":-0.36,"h":0.09},{"t":548,"rsi":49,"m":-0.22,"s":-0.32,"h":0.1},{"t":552,"rsi":46,"m":-0.2,"s":-0.28,"h":0.08},{"t":556,"rsi":48,"m":-0.19,"s":-0.25,"h":0.06},
{"t":560,"rsi":45,"m":-0.18,"s":-0.22,"h":0.05},{"t":564,"rsi":42,"m":-0.17,"s":-0.2,"h":0.03},{"t":568,"rsi":38,"m":-0.17,"s":-0.18,"h":0.01},{"t":572,"rsi":35,"m":-0.17,"s":-0.17,"h":-0.02},{"t":576,"rsi":37,"m":-0.19,"s":-0.17,"h":-0.05},{"t":580,"rsi":33,"m":-0.24,"s":-0.19,"h":-0.08},{"t":584,"rsi":31,"m":-0.35,"s":-0.23,"h":-0.12},{"t":588,"rsi":35,"m":-0.45,"s":-0.28,"h":-0.15},{"t":592,"rsi":30,"m":-0.5,"s":-0.34,"h":-0.16},{"t":596,"rsi":33,"m":-0.51,"s":-0.39,"h":-0.14},
{"t":600,"rsi":40,"m":-0.5,"s":-0.41,"h":-0.1},{"t":604,"rsi":45,"m":-0.42,"s":-0.4,"h":-0.04},{"t":608,"rsi":52,"m":-0.32,"s":-0.37,"h":0.06},{"t":612,"rsi":56,"m":-0.22,"s":-0.32,"h":0.13},{"t":616,"rsi":58,"m":-0.14,"s":-0.26,"h":0.19},{"t":620,"rsi":54,"m":-0.07,"s":-0.19,"h":0.22},{"t":624,"rsi":50,"m":-0.02,"s":-0.12,"h":0.2},{"t":628,"rsi":47,"m":0.01,"s":-0.06,"h":0.15},{"t":632,"rsi":45,"m":0.02,"s":-0.02,"h":0.08},{"t":636,"rsi":42,"m":0.01,"s":0,"h":0.03},
{"t":640,"rsi":40,"m":-0.01,"s":0.01,"h":0},{"t":644,"rsi":44,"m":-0.03,"s":0,"h":-0.02},{"t":648,"rsi":42,"m":-0.03,"s":-0.01,"h":-0.02},{"t":652,"rsi":46,"m":-0.01,"s":-0.01,"h":0},{"t":656,"rsi":50,"m":0.01,"s":-0.01,"h":0.02},{"t":660,"rsi":47,"m":0.02,"s":0,"h":0.02},{"t":664,"rsi":44,"m":0.01,"s":0,"h":0.01},{"t":668,"rsi":43,"m":-0.01,"s":0,"h":-0.01},{"t":672,"rsi":45,"m":-0.03,"s":-0.01,"h":-0.02},{"t":676,"rsi":44,"m":-0.05,"s":-0.02,"h":-0.03},
{"t":680,"rsi":42,"m":-0.1,"s":-0.04,"h":-0.06},{"t":684,"rsi":34,"m":-0.16,"s":-0.07,"h":-0.09},{"t":688,"rsi":36,"m":-0.21,"s":-0.11,"h":-0.1},{"t":692,"rsi":40,"m":-0.24,"s":-0.14,"h":-0.1},{"t":696,"rsi":44,"m":-0.23,"s":-0.16,"h":-0.07},{"t":700,"rsi":43,"m":-0.21,"s":-0.17,"h":-0.04},{"t":704,"rsi":42,"m":-0.2,"s":-0.17,"h":-0.03}
],
"last": [{"price": 14.4892}],
"zones": [{"zone": "overbought", "from": 70, "to": 100}, {"zone": "oversold", "from": 0, "to": 30}]
},
"vconcat": [
{
  "width": 1082, "height": 268,
  "layer": [
    {"data": {"name": "last"}, "mark": {"type": "rule", "color": "#e2e2e2"},
     "encoding": {"x": {"datum": 96, "type": "quantitative", "scale": {"domain": [-1.13, 717.3], "nice": false, "zero": false, "padding": 0}, "axis": null}}},
    {"data": {"name": "sma"}, "mark": {"type": "line", "opacity": 0},
     "encoding": {
       "x": {"field": "t", "type": "quantitative", "scale": {"domain": [-1.13, 717.3], "nice": false, "zero": false, "padding": 0}, "axis": null},
       "y": {"field": "sma50", "type": "quantitative", "scale": {"domain": [7.0, 21.12], "nice": false, "zero": false, "padding": 0}, "axis": {"orient": "right", "title": null, "values": [8, 10, 12, 14, 16, 18, 20], "format": ".4f", "tickSize": 5, "labelPadding": 3, "grid": true, "gridColor": "#e4e4e4"}},
       "stroke": {"datum": "LINK/USD", "scale": {"range": ["#2e8b6e"]}, "legend": {"title": null, "orient": "none", "legendX": 5, "legendY": 5, "labelExpr": "datum.label + '\u00a0\u00a0\u00a0\u00a0\u00a0\u00a0\u00a0\u00a0\u00a0\u00a0\u00a0'"}}
     }},
    {"data": {"name": "candles"}, "mark": {"type": "rule", "strokeWidth": 1, "clip": true},
     "encoding": {
       "x": {"field": "t", "type": "quantitative", "scale": {"domain": [-1.13, 717.3], "nice": false, "zero": false, "padding": 0}, "axis": null},
       "y": {"field": "lo", "type": "quantitative", "scale": {"domain": [7.0, 21.12], "nice": false, "zero": false, "padding": 0}, "axis": {"orient": "right", "title": null, "values": [8, 10, 12, 14, 16, 18, 20], "format": ".4f", "tickSize": 5, "labelPadding": 3, "grid": true, "gridColor": "#e4e4e4"}},
       "y2": {"field": "hi"},
       "color": {"condition": {"test": "datum.c >= datum.o", "value": "#2e8b6e"}, "value": "#e0533c"}
     }},
    {"data": {"name": "candles"}, "mark": {"type": "bar", "size": 2, "clip": true},
     "encoding": {
       "x": {"field": "t", "type": "quantitative", "scale": {"domain": [-1.13, 717.3], "nice": false, "zero": false, "padding": 0}, "axis": null},
       "y": {"field": "o", "type": "quantitative", "scale": {"domain": [7.0, 21.12], "nice": false, "zero": false, "padding": 0}, "axis": {"orient": "right", "title": null, "values": [8, 10, 12, 14, 16, 18, 20], "format": ".4f", "tickSize": 5, "labelPadding": 3, "grid": true, "gridColor": "#e4e4e4"}},
       "y2": {"field": "c"},
       "color": {"condition": {"test": "datum.c >= datum.o", "value": "#2e8b6e"}, "value": "#e0533c"}
     }},
    {"data": {"name": "sma"}, "mark": {"type": "line", "strokeWidth": 1.5, "clip": true},
     "encoding": {
       "x": {"field": "t", "type": "quantitative", "scale": {"domain": [-1.13, 717.3], "nice": false, "zero": false, "padding": 0}, "axis": null},
       "y": {"field": "sma200", "type": "quantitative", "scale": {"domain": [7.0, 21.12], "nice": false, "zero": false, "padding": 0}, "axis": {"orient": "right", "title": null, "values": [8, 10, 12, 14, 16, 18, 20], "format": ".4f", "tickSize": 5, "labelPadding": 3, "grid": true, "gridColor": "#e4e4e4"}},
       "stroke": {"datum": "SMA (200,0)", "scale": {"range": ["#f07a22"]}, "legend": {"title": null, "orient": "none", "legendX": 5, "legendY": 32, "labelExpr": "datum.label + '\u00a0\u00a0\u00a0\u00a0\u00a0\u00a0\u00a0\u00a0\u00a0\u00a0\u00a0'"}}
     }},
    {"data": {"name": "sma"}, "mark": {"type": "line", "strokeWidth": 1.5, "clip": true},
     "encoding": {
       "x": {"field": "t", "type": "quantitative", "scale": {"domain": [-1.13, 717.3], "nice": false, "zero": false, "padding": 0}, "axis": null},
       "y": {"field": "sma50", "type": "quantitative", "scale": {"domain": [7.0, 21.12], "nice": false, "zero": false, "padding": 0}, "axis": {"orient": "right", "title": null, "values": [8, 10, 12, 14, 16, 18, 20], "format": ".4f", "tickSize": 5, "labelPadding": 3, "grid": true, "gridColor": "#e4e4e4"}},
       "stroke": {"datum": "SMA (50,0)", "scale": {"range": ["#2358c4"]}, "legend": {"title": null, "orient": "none", "legendX": 5, "legendY": 59, "labelExpr": "datum.label + '\u00a0\u00a0\u00a0\u00a0\u00a0\u00a0\u00a0\u00a0\u00a0\u00a0\u00a0'"}}
     }},
    {"data": {"name": "channel"}, "mark": {"type": "line", "color": "#000000", "strokeWidth": 2.5, "clip": true},
     "encoding": {
       "x": {"field": "t", "type": "quantitative", "scale": {"domain": [-1.13, 717.3], "nice": false, "zero": false, "padding": 0}, "axis": null},
       "y": {"field": "p", "type": "quantitative", "scale": {"domain": [7.0, 21.12], "nice": false, "zero": false, "padding": 0}, "axis": {"orient": "right", "title": null, "values": [8, 10, 12, 14, 16, 18, 20], "format": ".4f", "tickSize": 5, "labelPadding": 3, "grid": true, "gridColor": "#e4e4e4"}},
       "detail": {"field": "line"}
     }},
    {"data": {"name": "last"}, "mark": {"type": "rule", "color": "#1f3d66", "strokeWidth": 1},
     "encoding": {"y": {"field": "price", "type": "quantitative", "scale": {"domain": [7.0, 21.12], "nice": false, "zero": false, "padding": 0}, "axis": {"orient": "right", "title": null, "values": [8, 10, 12, 14, 16, 18, 20], "format": ".4f", "tickSize": 5, "labelPadding": 3, "grid": true, "gridColor": "#e4e4e4"}}}},
    {"data": {"name": "last"}, "mark": {"type": "rect", "color": "#2c4a70", "clip": false},
     "encoding": {
       "x": {"datum": 719.3, "type": "quantitative", "scale": {"domain": [-1.13, 717.3], "nice": false, "zero": false, "padding": 0}, "axis": null},
       "x2": {"datum": 755.6},
       "y": {"datum": 14.79, "type": "quantitative", "scale": {"domain": [7.0, 21.12], "nice": false, "zero": false, "padding": 0}, "axis": {"orient": "right", "title": null, "values": [8, 10, 12, 14, 16, 18, 20], "format": ".4f", "tickSize": 5, "labelPadding": 3, "grid": true, "gridColor": "#e4e4e4"}},
       "y2": {"datum": 14.14}
     }},
    {"data": {"name": "last"}, "mark": {"type": "text", "color": "#ffffff", "font": "Liberation Sans", "fontSize": 11, "fontWeight": "bold", "align": "center", "baseline": "middle", "clip": false},
     "encoding": {
       "x": {"datum": 737.5, "type": "quantitative", "scale": {"domain": [-1.13, 717.3], "nice": false, "zero": false, "padding": 0}, "axis": null},
       "y": {"field": "price", "type": "quantitative", "scale": {"domain": [7.0, 21.12], "nice": false, "zero": false, "padding": 0}, "axis": {"orient": "right", "title": null, "values": [8, 10, 12, 14, 16, 18, 20], "format": ".4f", "tickSize": 5, "labelPadding": 3, "grid": true, "gridColor": "#e4e4e4"}},
       "text": {"field": "price", "format": ".5f"}
     }}
  ],
  "resolve": {"scale": {"stroke": "independent"}, "legend": {"stroke": "independent"}}
},
{
  "width": 1082, "height": 41,
  "layer": [
    {"data": {"name": "last"}, "mark": {"type": "rule", "color": "#e2e2e2"},
     "encoding": {"x": {"datum": 96, "type": "quantitative", "scale": {"domain": [-1.13, 717.3], "nice": false, "zero": false, "padding": 0}, "axis": null}}},
    {"data": {"name": "ind"}, "mark": {"type": "line", "opacity": 0},
     "encoding": {
       "x": {"field": "t", "type": "quantitative", "scale": {"domain": [-1.13, 717.3], "nice": false, "zero": false, "padding": 0}, "axis": null},
       "y": {"field": "rsi", "type": "quantitative", "scale": {"domain": [0, 100], "nice": false, "padding": 0}, "axis": {"orient": "right", "title": null, "values": [0], "format": ".4f", "tickSize": 5, "labelPadding": 3, "grid": false}},
       "stroke": {"datum": "RSI (14,70,30,1)", "scale": {"range": ["#00ee00"]}, "legend": {"title": null, "orient": "none", "legendX": 5, "legendY": 5, "labelExpr": "datum.label + '\u00a0\u00a0\u00a0\u00a0\u00a0\u00a0\u00a0\u00a0\u00a0\u00a0\u00a0\u00a0'"}}
     }},
    {"data": {"name": "zones"}, "mark": {"type": "rect", "stroke": "#222222", "strokeWidth": 1, "strokeDash": [3, 1], "clip": true},
     "encoding": {
       "x": {"datum": -1.13, "type": "quantitative", "scale": {"domain": [-1.13, 717.3], "nice": false, "zero": false, "padding": 0}, "axis": null},
       "x2": {"datum": 704},
       "y": {"field": "from", "type": "quantitative", "scale": {"domain": [0, 100], "nice": false, "padding": 0}, "axis": {"orient": "right", "title": null, "values": [0], "format": ".4f", "tickSize": 5, "labelPadding": 3, "grid": false}},
       "y2": {"field": "to"},
       "fill": {"field": "zone", "type": "nominal", "scale": {"domain": ["overbought", "oversold"], "range": ["#80ff80", "#ff8080"]}, "legend": null}
     }},
    {"data": {"name": "ind"}, "mark": {"type": "line", "color": "#2a50ee", "strokeWidth": 1, "clip": true},
     "encoding": {
       "x": {"field": "t", "type": "quantitative", "scale": {"domain": [-1.13, 717.3], "nice": false, "zero": false, "padding": 0}, "axis": null},
       "y": {"field": "rsi", "type": "quantitative", "scale": {"domain": [0, 100], "nice": false, "padding": 0}, "axis": {"orient": "right", "title": null, "values": [0], "format": ".4f", "tickSize": 5, "labelPadding": 3, "grid": false}}
     }}
  ],
  "resolve": {"scale": {"stroke": "independent"}, "legend": {"stroke": "independent"}}
},
{
  "width": 1082, "height": 30,
  "layer": [
    {"data": {"name": "last"}, "mark": {"type": "rule", "color": "#e2e2e2"},
     "encoding": {"x": {"datum": 96, "type": "quantitative", "scale": {"domain": [-1.13, 717.3], "nice": false, "zero": false, "padding": 0},
       "axis": {"orient": "bottom", "title": null, "values": [0,24,48,72,96,120,144,168,192,216,240,264,288,312,336,360,384,408,432,456,480,504,528,552,576,600,624,648,672,696], "labelExpr": "datum.value < 1 ? 'Jul' : datum.value < 96 ? '' + (28 + datum.value / 24) : datum.value == 96 ? 'Aug' : '' + ((datum.value - 96) / 24 + 1)", "tickSize": 5, "labelPadding": 2, "grid": false, "labelFontSize": 12, "labelOverlap": false}}}},
    {"data": {"name": "ind"}, "mark": {"type": "bar", "size": 5, "clip": true},
     "encoding": {
       "x": {"field": "t", "type": "quantitative", "scale": {"domain": [-1.13, 717.3], "nice": false, "zero": false, "padding": 0},
             "axis": {"orient": "bottom", "title": null, "values": [0,24,48,72,96,120,144,168,192,216,240,264,288,312,336,360,384,408,432,456,480,504,528,552,576,600,624,648,672,696], "labelExpr": "datum.value < 1 ? 'Jul' : datum.value < 96 ? '' + (28 + datum.value / 24) : datum.value == 96 ? 'Aug' : '' + ((datum.value - 96) / 24 + 1)", "tickSize": 5, "labelPadding": 2, "grid": false, "labelFontSize": 12, "labelOverlap": false}},
       "y": {"field": "h", "type": "quantitative", "scale": {"domain": [-0.6, 0.9], "nice": false, "zero": false, "padding": 0},
             "axis": {"orient": "right", "title": null, "values": [0], "labelExpr": "'-0.0000'", "tickSize": 5, "labelPadding": 3, "grid": true, "gridColor": "#d8d8d8"}},
       "y2": {"datum": 0},
       "color": {"condition": {"test": "datum.h >= 0", "value": "#00e000"}, "value": "#ff1a1a"}
     }},
    {"data": {"name": "ind"}, "mark": {"type": "line", "strokeWidth": 1.2, "clip": true},
     "encoding": {
       "x": {"field": "t", "type": "quantitative", "scale": {"domain": [-1.13, 717.3], "nice": false, "zero": false, "padding": 0},
             "axis": {"orient": "bottom", "title": null, "values": [0,24,48,72,96,120,144,168,192,216,240,264,288,312,336,360,384,408,432,456,480,504,528,552,576,600,624,648,672,696], "labelExpr": "datum.value < 1 ? 'Jul' : datum.value < 96 ? '' + (28 + datum.value / 24) : datum.value == 96 ? 'Aug' : '' + ((datum.value - 96) / 24 + 1)", "tickSize": 5, "labelPadding": 2, "grid": false, "labelFontSize": 12, "labelOverlap": false}},
       "y": {"field": "m", "type": "quantitative", "scale": {"domain": [-0.6, 0.9], "nice": false, "zero": false, "padding": 0},
             "axis": {"orient": "right", "title": null, "values": [0], "labelExpr": "'-0.0000'", "tickSize": 5, "labelPadding": 3, "grid": true, "gridColor": "#d8d8d8"}},
       "stroke": {"datum": "MACD (12,26,9)", "scale": {"range": ["#2244ee"]}, "legend": {"title": null, "orient": "none", "legendX": 5, "legendY": 5, "labelExpr": "datum.label + '\u00a0\u00a0\u00a0\u00a0\u00a0\u00a0\u00a0\u00a0\u00a0\u00a0\u00a0\u00a0'"}}
     }},
    {"data": {"name": "ind"}, "mark": {"type": "line", "color": "#f58220", "strokeWidth": 1.2, "clip": true},
     "encoding": {
       "x": {"field": "t", "type": "quantitative", "scale": {"domain": [-1.13, 717.3], "nice": false, "zero": false, "padding": 0},
             "axis": {"orient": "bottom", "title": null, "values": [0,24,48,72,96,120,144,168,192,216,240,264,288,312,336,360,384,408,432,456,480,504,528,552,576,600,624,648,672,696], "labelExpr": "datum.value < 1 ? 'Jul' : datum.value < 96 ? '' + (28 + datum.value / 24) : datum.value == 96 ? 'Aug' : '' + ((datum.value - 96) / 24 + 1)", "tickSize": 5, "labelPadding": 2, "grid": false, "labelFontSize": 12, "labelOverlap": false}},
       "y": {"field": "s", "type": "quantitative", "scale": {"domain": [-0.6, 0.9], "nice": false, "zero": false, "padding": 0},
             "axis": {"orient": "right", "title": null, "values": [0], "labelExpr": "'-0.0000'", "tickSize": 5, "labelPadding": 3, "grid": true, "gridColor": "#d8d8d8"}}
     }}
  ]
}
]
}
